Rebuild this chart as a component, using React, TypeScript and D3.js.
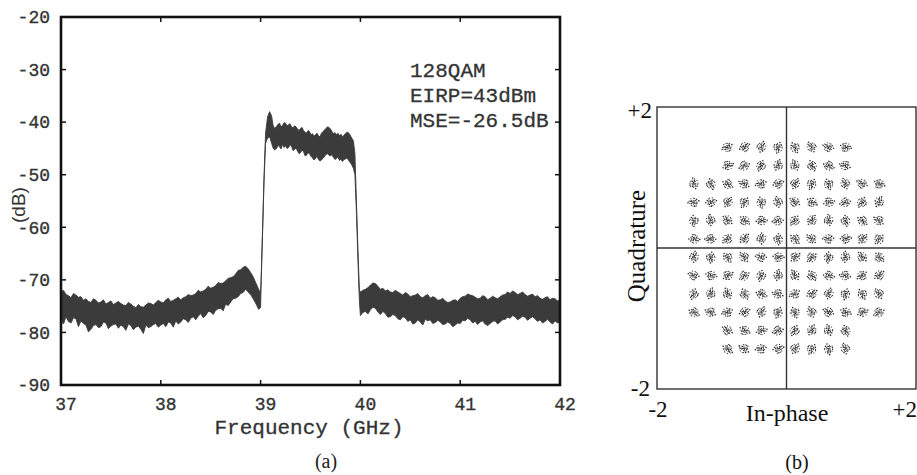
import React from 'react';
import * as d3 from 'd3';

// ---------- Data ----------
const yTicks = [-20, -30, -40, -50, -60, -70, -80, -90];
const xTicks = [37, 38, 39, 40, 41, 42];
const annotations = ['128QAM', 'EIRP=43dBm', 'MSE=-26.5dB'];

// [frequency GHz, upper envelope dB, lower envelope dB]
const lowerSideband: [number, number, number][] = [
  [37.0, -72.3, -77.5], [37.025, -72.0, -78.4], [37.05, -72.8, -77.0], [37.075, -73.0, -77.9], [37.1, -73.4, -78.2], [37.125, -72.6, -77.2], [37.15, -72.9, -77.4],
  [37.175, -73.3, -78.9], [37.2, -73.2, -77.8], [37.225, -73.9, -78.3], [37.25, -73.6, -78.6], [37.275, -74.1, -79.9], [37.3, -74.3, -79.4], [37.325, -73.6, -78.7], [37.35, -73.9, -78.5],
  [37.375, -74.4, -79.1], [37.4, -74.2, -78.9], [37.425, -73.8, -78.0], [37.45, -74.6, -78.2], [37.475, -74.3, -79.3], [37.5, -74.0, -78.8], [37.525, -74.7, -78.5], [37.55, -74.4, -78.4],
  [37.575, -74.1, -79.2], [37.6, -74.5, -78.6], [37.625, -74.8, -78.9], [37.65, -74.9, -79.6], [37.675, -74.3, -78.4], [37.7, -74.6, -78.7], [37.725, -75.0, -79.5], [37.75, -75.3, -79.0],
  [37.775, -74.7, -78.8], [37.8, -75.1, -79.4], [37.825, -75.2, -80.2], [37.85, -74.8, -78.6], [37.875, -74.4, -79.1], [37.9, -74.5, -78.9], [37.925, -74.8, -78.5], [37.95, -74.3, -78.3],
  [37.975, -73.9, -79.0], [38.0, -74.2, -78.6], [38.025, -74.4, -78.3], [38.05, -73.8, -78.9], [38.075, -73.5, -78.0], [38.1, -74.1, -78.2], [38.125, -73.9, -79.0], [38.15, -73.6, -77.8],
  [38.175, -73.3, -78.4], [38.2, -73.8, -78.0], [38.225, -73.4, -77.4], [38.25, -73.2, -77.6], [38.275, -72.8, -78.1], [38.3, -73.0, -77.3], [38.325, -72.9, -77.0], [38.35, -72.6, -77.6],
  [38.375, -72.0, -76.9], [38.4, -72.3, -76.4], [38.425, -72.1, -77.2], [38.45, -71.8, -76.8], [38.475, -71.2, -76.0], [38.5, -71.6, -76.1], [38.525, -71.4, -76.6], [38.55, -71.1, -75.8],
  [38.575, -70.5, -75.5], [38.6, -70.7, -75.4], [38.625, -70.6, -75.9], [38.65, -70.2, -74.6], [38.675, -69.7, -74.9], [38.7, -69.6, -74.2], [38.725, -69.4, -73.6], [38.75, -68.9, -73.5],
  [38.775, -68.2, -73.2], [38.8, -68.1, -72.6], [38.825, -67.6, -72.4], [38.85, -67.4, -71.8], [38.875, -67.9, -72.3], [38.9, -68.6, -72.8], [38.925, -69.4, -73.6], [38.95, -70.5, -74.4],
  [38.98, -71.8, -75.6], [39.0, -72.5, -75.3],
];

const mainLobe: [number, number, number][] = [
  [39.005, -70.0, -71.0], [39.02, -60.0, -61.0], [39.035, -50.0, -51.0], [39.05, -42.0, -44.0],
  [39.07, -39.0, -43.0], [39.09, -38.0, -42.8], [39.11, -38.8, -44.0], [39.125, -40.6, -44.9], [39.14, -41.2, -45.3],
  [39.16, -40.8, -45.0], [39.175, -40.4, -44.4], [39.19, -40.2, -44.7], [39.205, -40.9, -45.1], [39.22, -40.6, -44.2], [39.235, -40.1, -44.8], [39.25, -40.2, -44.5],
  [39.265, -40.7, -45.0], [39.28, -40.5, -44.8], [39.295, -40.3, -44.3], [39.31, -40.9, -44.6], [39.325, -41.1, -45.4], [39.34, -40.7, -45.2], [39.355, -40.9, -44.9], [39.37, -41.3, -45.5],
  [39.385, -41.6, -46.0], [39.4, -41.2, -45.8], [39.415, -41.0, -45.3], [39.43, -41.6, -45.6], [39.445, -41.9, -46.4], [39.46, -42.1, -46.3], [39.475, -41.6, -45.8], [39.49, -41.8, -46.0],
  [39.505, -42.4, -46.5], [39.52, -42.2, -46.8], [39.535, -42.7, -47.2], [39.55, -42.4, -46.9], [39.565, -42.1, -46.5], [39.58, -42.6, -47.1], [39.595, -42.8, -47.4], [39.61, -42.1, -47.2],
  [39.625, -41.8, -46.8], [39.64, -41.5, -46.6], [39.655, -41.2, -46.1], [39.67, -40.9, -46.0], [39.685, -41.0, -46.3], [39.7, -41.3, -46.4], [39.715, -41.8, -46.2], [39.73, -42.2, -46.7],
  [39.745, -42.0, -47.1], [39.76, -42.4, -46.9], [39.775, -42.1, -46.6], [39.79, -42.6, -47.3], [39.805, -42.3, -47.0], [39.82, -42.8, -47.5], [39.835, -42.5, -47.1], [39.85, -42.2, -47.0],
  [39.865, -41.9, -46.8], [39.88, -42.0, -47.2], [39.895, -42.4, -47.6], [39.91, -42.9, -48.0], [39.93, -43.6, -48.8], [39.945, -46.0, -50.0],
  [39.96, -55.0, -57.0], [39.975, -64.0, -66.0], [39.99, -72.0, -74.0],
];

const upperSideband: [number, number, number][] = [
  [40.0, -72.3, -76.8], [40.025, -72.0, -76.2], [40.05, -71.8, -76.0], [40.075, -71.5, -76.5], [40.1, -71.0, -75.7], [40.125, -70.6, -75.2], [40.15, -70.7, -75.4],
  [40.175, -71.2, -76.1], [40.2, -71.8, -76.6], [40.225, -71.6, -76.0], [40.25, -72.1, -76.4], [40.275, -71.9, -77.1], [40.3, -72.3, -77.0], [40.325, -72.4, -76.6], [40.35, -72.0, -76.8],
  [40.375, -72.3, -77.4], [40.4, -72.6, -77.6], [40.425, -72.9, -77.0], [40.45, -72.4, -77.2], [40.475, -72.7, -77.9], [40.5, -73.2, -77.6], [40.525, -73.0, -78.4], [40.55, -72.9, -78.2],
  [40.575, -72.6, -77.6], [40.6, -73.2, -78.0], [40.625, -73.4, -78.6], [40.65, -73.0, -77.5], [40.675, -72.8, -77.8], [40.7, -73.5, -77.6], [40.725, -73.2, -78.3], [40.75, -73.4, -78.1],
  [40.775, -73.9, -77.7], [40.8, -73.8, -78.0], [40.825, -73.5, -78.5], [40.85, -74.0, -78.4], [40.875, -74.3, -78.0], [40.9, -74.2, -78.3], [40.925, -73.9, -78.9], [40.95, -73.8, -78.6],
  [40.975, -74.1, -78.2], [41.0, -73.5, -78.3], [41.025, -73.2, -77.7], [41.05, -73.1, -77.8], [41.075, -72.7, -77.3], [41.1, -72.9, -77.6], [41.125, -73.0, -78.2], [41.15, -73.3, -77.9],
  [41.175, -73.6, -78.5], [41.2, -73.5, -78.0], [41.225, -73.0, -77.8], [41.25, -73.2, -78.4], [41.275, -73.8, -78.7], [41.3, -73.5, -78.3], [41.325, -73.1, -77.9], [41.35, -73.4, -77.8],
  [41.375, -73.6, -78.4], [41.4, -73.2, -78.0], [41.425, -72.9, -77.6], [41.45, -72.8, -77.5], [41.475, -72.3, -77.1], [41.5, -72.6, -77.3], [41.525, -72.1, -76.8], [41.55, -72.4, -77.0],
  [41.575, -72.8, -77.6], [41.6, -72.6, -77.3], [41.625, -72.3, -76.9], [41.65, -72.8, -77.1], [41.675, -73.1, -77.7], [41.7, -72.9, -77.3], [41.725, -72.7, -77.0], [41.75, -73.2, -77.4],
  [41.775, -73.0, -77.9], [41.8, -73.5, -77.6], [41.825, -73.7, -78.2], [41.85, -73.4, -77.9], [41.875, -73.2, -77.5], [41.9, -73.8, -78.0], [41.925, -73.5, -78.4], [41.95, -73.6, -77.8],
  [41.975, -74.0, -78.2], [42.0, -73.8, -78.0],
];

// 128-QAM cross constellation: levels (odd multiples of the step), corners removed
const qamLevels = [-11, -9, -7, -5, -3, -1, 1, 3, 5, 7, 9, 11];
const qamStep = 0.13;
const constellationTicks = ['-2', '+2'];

// ---------- Component ----------
export default function App() {
  const W = 917, H = 475;
  const L = { x0: 61, x1: 560, y0: 17, y1: 385 };
  const xL = d3.scaleLinear().domain([37, 42]).range([L.x0, L.x1]);
  const yL = d3.scaleLinear().domain([-90, -20]).range([L.y1, L.y0]);

  const R = { x0: 657, x1: 916, y0: 107, y1: 389 };
  const xR = d3.scaleLinear().domain([-2, 2]).range([R.x0, R.x1]);
  const yR = d3.scaleLinear().domain([-2, 2]).range([R.y1, R.y0]);

  const spectrum = [...lowerSideband, ...mainLobe, ...upperSideband];
  const area = d3
    .area<[number, number, number]>()
    .x((d) => xL(d[0]))
    .y0((d) => yL(d[2]))
    .y1((d) => yL(d[1]));

  const points: { i: number; q: number; k: number }[] = [];
  let k = 0;
  qamLevels.forEach((q) => {
    qamLevels.forEach((i) => {
      if (Math.abs(i) >= 9 && Math.abs(q) >= 9) return;
      points.push({ i: i * qamStep, q: q * qamStep, k: k++ });
    });
  });

  // cluster glyph (pixel offsets) – drawing style for each received-symbol cloud
  const glyph = [
    [0, 0], [1.5, -1], [-1.2, 1.4], [2.8, 0.6], [-2.5, -0.8], [0.6, 2.6], [-0.4, -2.7],
    [3.4, -2.2], [-3.2, 2.2], [1.9, 3.1], [-1.8, -3.0], [3.8, 1.8], [-3.9, 0.2], [0.3, -1.2],
    [-0.9, 0.4], [2.2, -3.4], [-2.6, 3.3], [4.2, -0.6], [1.0, 0.8], [-1.5, -1.6], [0.9, -4.3],
    [-4.4, -2.5], [2.7, 4.2], [-0.2, 4.6], [4.7, 3.6], [-2.2, 0.3], [1.2, 1.9],
  ];

  const mono = "'Liberation Mono', 'DejaVu Sans Mono', monospace";
  const serif = "'Liberation Serif', 'DejaVu Serif', serif";
  const sans = "'Liberation Sans', Arial, sans-serif";

  return (
    <svg width={W} height={H} style={{ position: 'absolute', left: 0, top: 0, background: '#fff' }}>
      {/* ---------- Panel (a) ---------- */}
      <path d={area(spectrum) || ''} fill="#3b3b3b" stroke="#3b3b3b" strokeWidth={0.9} strokeLinejoin="miter" />

      {/* ticks */}
      {yTicks.map((t) => (
        <g key={'yt' + t}>
          <line x1={L.x0} x2={L.x0 + 5} y1={yL(t)} y2={yL(t)} stroke="#111" strokeWidth={1.5} />
          <line x1={L.x1} x2={L.x1 - 5} y1={yL(t)} y2={yL(t)} stroke="#111" strokeWidth={1.5} />
          <text x={50} y={yL(t)} dy="0.35em" textAnchor="end" fontFamily={mono} fontSize={18} fill="#333" stroke="#333" strokeWidth={0.35}>
            {t}
          </text>
        </g>
      ))}
      {xTicks.map((t) => (
        <g key={'xt' + t}>
          <line x1={xL(t)} x2={xL(t)} y1={L.y1} y2={L.y1 - 5} stroke="#111" strokeWidth={1.5} />
          <line x1={xL(t)} x2={xL(t)} y1={L.y0} y2={L.y0 + 5} stroke="#111" strokeWidth={1.5} />
          <text x={xL(t) + 5} y={410} textAnchor="middle" fontFamily={mono} fontSize={18} fill="#333" stroke="#333" strokeWidth={0.35}>
            {t}
          </text>
        </g>
      ))}
      <rect x={L.x0} y={L.y0} width={L.x1 - L.x0} height={L.y1 - L.y0} fill="none" stroke="#111" strokeWidth={2.6} />

      {annotations.map((s, j) => (
        <text key={s} x={410} y={77 + j * 25} fontFamily={mono} fontSize={21} fill="#333" stroke="#333" strokeWidth={0.3}>
          {s}
        </text>
      ))}
      <text x={309} y={434} textAnchor="middle" fontFamily={mono} fontSize={21} fill="#333" stroke="#333" strokeWidth={0.3}>
        Frequency (GHz)
      </text>
      <text transform="translate(25,205) rotate(-90)" textAnchor="middle" fontFamily={sans} fontSize={19} fill="#333">
        (dB)
      </text>
      <text x={326} y={468} textAnchor="middle" fontFamily={serif} fontSize={20} fill="#222">
        (a)
      </text>

      {/* ---------- Panel (b) ---------- */}
      <rect x={R.x0} y={R.y0} width={R.x1 - R.x0} height={R.y1 - R.y0} fill="none" stroke="#333" strokeWidth={1.4} />
      <line x1={xR(0)} x2={xR(0)} y1={R.y0} y2={R.y1} stroke="#333" strokeWidth={1.4} />
      <line x1={R.x0} x2={R.x1} y1={yR(0)} y2={yR(0)} stroke="#333" strokeWidth={1.4} />

      {points.map((p) => {
        const a = ((p.k * 67) % 360) * (Math.PI / 180);
        const c = Math.cos(a), s = Math.sin(a);
        const flip = p.k % 2 === 0 ? 1 : -1;
        const cx = xR(p.i), cy = yR(p.q);
        return (
          <g key={'p' + p.k}>
            {glyph.map(([dx, dy], g) => (
              <circle
                key={g}
                cx={cx + (dx * flip) * c - dy * s}
                cy={cy + (dx * flip) * s + dy * c}
                r={g % 3 === 0 ? 0.8 : 0.6}
                fill="#2a2a2a"
              />
            ))}
          </g>
        );
      })}

      <text x={652} y={118} textAnchor="end" fontFamily={serif} fontSize={23} fill="#111">
        {constellationTicks[1]}
      </text>
      <text x={650} y={396} textAnchor="end" fontFamily={serif} fontSize={23} fill="#111">
        {constellationTicks[0]}
      </text>
      <text x={658} y={417} textAnchor="middle" fontFamily={serif} fontSize={23} fill="#111">
        {constellationTicks[0]}
      </text>
      <text x={917} y={417} textAnchor="end" fontFamily={serif} fontSize={23} fill="#111">
        {constellationTicks[1]}
      </text>
      <text x={787} y={421} textAnchor="middle" fontFamily={serif} fontSize={24} fill="#111">
        In-phase
      </text>
      <text transform="translate(645,246) rotate(-90)" textAnchor="middle" fontFamily={serif} fontSize={25} fill="#111">
        Quadrature
      </text>
      <text x={797} y={469} textAnchor="middle" fontFamily={serif} fontSize={20} fill="#111">
        (b)
      </text>
    </svg>
  );
}
